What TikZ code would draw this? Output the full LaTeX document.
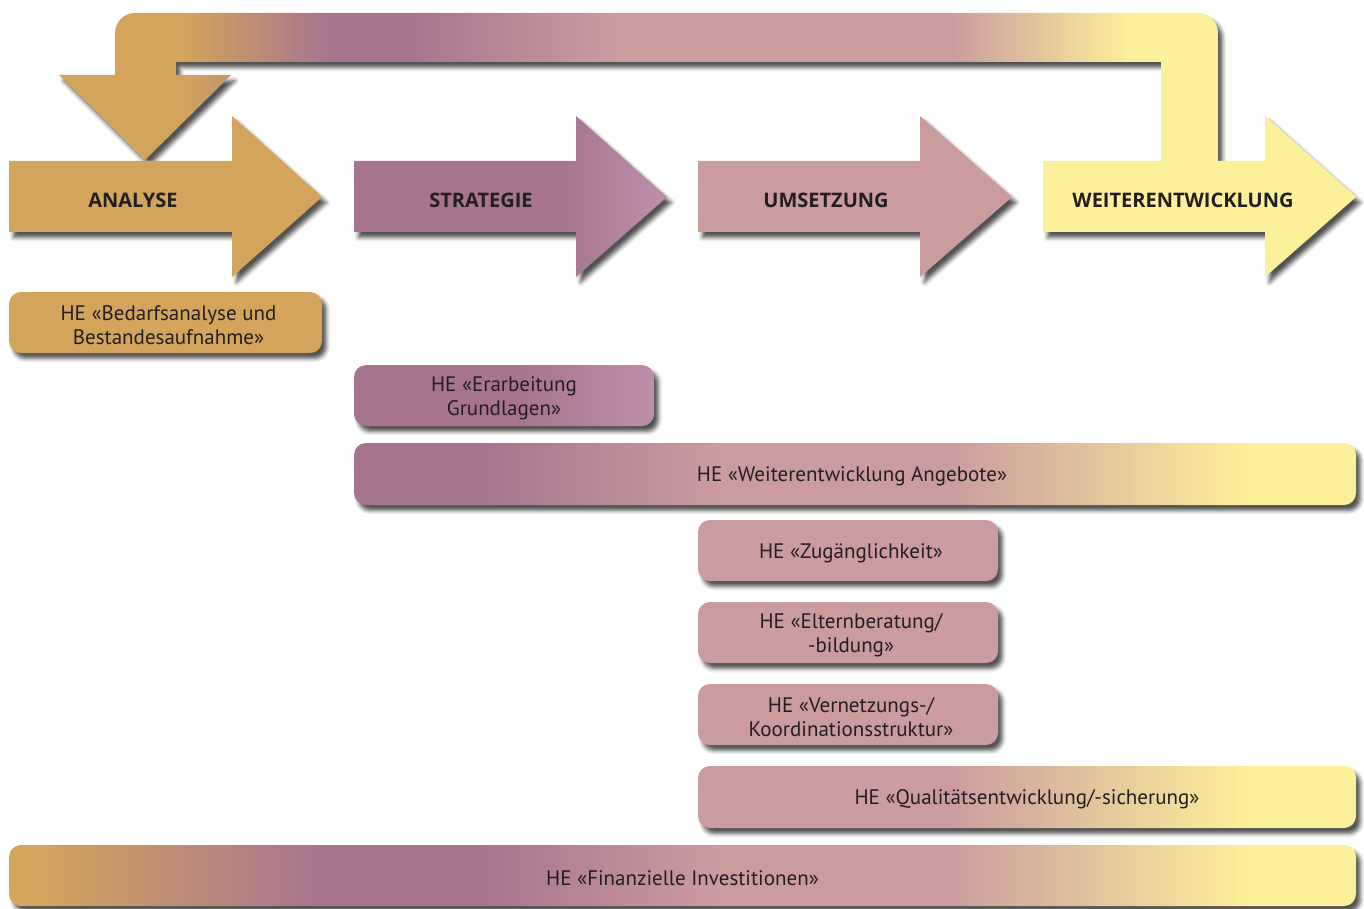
\documentclass[tikz,border=0pt]{standalone}
\usepackage{fontspec}
\setmainfont{PT Sans}
\newfontfamily\headfont{Open Sans}
\usetikzlibrary{shadows.blur}
\definecolor{cgold}{HTML}{D3A55C}
\definecolor{cpurple}{HTML}{A6748F}
\definecolor{clightpurple}{HTML}{BE8FAB}
\definecolor{cpink}{HTML}{CB9C9E}
\definecolor{cyellow}{HTML}{FDF09A}
\definecolor{ctext}{HTML}{231F20}
\pgfdeclarehorizontalshading{finshade}{100bp}{color(0bp)=(cgold); color(26.15bp)=(cgold); color(36.54bp)=(cpurple); color(42.48bp)=(cpurple); color(51.39bp)=(cpink); color(59.93bp)=(cpink); color(71.07bp)=(cyellow); color(100bp)=(cyellow)}
\pgfdeclarehorizontalshading{angshade}{100bp}{color(0bp)=(cpurple); color(31.29bp)=(cpurple); color(43.26bp)=(cpink); color(54.74bp)=(cpink); color(69.71bp)=(cyellow); color(100bp)=(cyellow)}
\pgfdeclarehorizontalshading{qualshade}{100bp}{color(0bp)=(cpink); color(44.15bp)=(cpink); color(66.95bp)=(cyellow); color(100bp)=(cyellow)}
\pgfdeclarehorizontalshading{loopshade}{100bp}{color(0bp)=(cgold); color(30.22bp)=(cgold); color(36.69bp)=(cpurple); color(40bp)=(cpurple); color(49bp)=(cpink); color(63.44bp)=(cpink); color(71.2bp)=(cyellow); color(100bp)=(cyellow)}
\pgfdeclarehorizontalshading{stratshade}{100bp}{color(0bp)=(cpurple); color(57.9bp)=(cpurple); color(75bp)=(clightpurple); color(100bp)=(clightpurple)}
\pgfdeclarehorizontalshading{erarshade}{100bp}{color(0bp)=(cpurple); color(52.7bp)=(cpurple); color(75bp)=(clightpurple); color(100bp)=(clightpurple)}
\tikzset{
  shad/.style={blur shadow={shadow xshift=2.2pt, shadow yshift=-2.8pt, shadow blur radius=2pt, shadow opacity=68}},
  box/.style={shad, rounded corners=6pt, inner sep=0pt},
  boxtxt/.style={text=ctext, align=center, inner sep=0pt, font=\fontsize{10.5}{12}\selectfont},
  headtxt/.style={text=ctext, font=\headfont\bfseries\fontsize{10}{12}\selectfont, inner sep=0pt},
}
\begin{document}
\begin{tikzpicture}[x=0.5pt,y=-0.5pt]
\useasboundingbox (0,0) rectangle (1364,909);
% feedback loop arrow
\path[shad, shade, shading=loopshade]
  (145,160) -- (231,75) -- (176,75) -- (176,62) -- (1161,62) -- (1161,161) -- (1218,161)
  -- (1218,33) arc[start angle=0, end angle=90, radius=10pt]
  -- (135,13) arc[start angle=90, end angle=180, radius=10pt]
  -- (115,75) -- (59,75) -- cycle;
% phase arrows
\path[shad, fill=cgold] (9,161) -- (232,161) -- (232,116) -- (322,197) -- (232,277) -- (232,232) -- (9,232) -- cycle;
\path[shad, shade, shading=stratshade] (354,161) -- (576,161) -- (576,116) -- (667,197) -- (576,277) -- (576,232) -- (354,232) -- cycle;
\path[shad, fill=cpink] (698,161) -- (920,161) -- (920,116) -- (1012,197) -- (920,277) -- (920,232) -- (698,232) -- cycle;
\path[shad, fill=cyellow] (1043,161) -- (1265,161) -- (1265,116) -- (1356,197) -- (1265,277) -- (1265,232) -- (1043,232) -- cycle;
\node[headtxt] (hA) at (133,200) {ANALYSE};
\node[headtxt] (hS) at (481,200) {STRATEGIE};
\node[headtxt] (hU) at (826,200) {UMSETZUNG};
\node[headtxt] (hW) at (1183,200) {WEITERENTWICKLUNG};
% boxes
\node[box, fill=cgold, minimum width=156.5pt, minimum height=30.5pt] (bBed) at (165.5,322.5) {};
\node[box, shade, shading=erarshade, minimum width=150pt, minimum height=30.5pt] (bErar) at (504,395.5) {};
\node[box, shade, shading=angshade, minimum width=501pt, minimum height=31pt] (bAng) at (855,474) {};
\node[box, fill=cpink, minimum width=150pt, minimum height=30.5pt] (bZug) at (848,550.5) {};
\node[box, fill=cpink, minimum width=150pt, minimum height=30.5pt] (bElt) at (848,632.5) {};
\node[box, fill=cpink, minimum width=150pt, minimum height=30.5pt] (bVer) at (848,714.5) {};
\node[box, shade, shading=qualshade, minimum width=329pt, minimum height=31pt] (bQual) at (1027,797) {};
\node[box, shade, shading=finshade, minimum width=673.5pt, minimum height=30.5pt] (bFin) at (682.5,875.5) {};
% box texts
\node[boxtxt] (tBed) at ([xshift=1.5pt,yshift=-1.2pt]bBed.center) {HE «Bedarfsanalyse und\\Bestandesaufnahme»};
\node[boxtxt] (tErar) at ([yshift=-1.2pt]bErar.center) {HE «Erarbeitung\\Grundlagen»};
\node[boxtxt] (tAng) at ([xshift=-1.5pt,yshift=-1.2pt]bAng.center) {HE «Weiterentwicklung Angebote»};
\node[boxtxt] (tZug) at ([xshift=1.5pt,yshift=-1.2pt]bZug.center) {HE «Zugänglichkeit»};
\node[boxtxt] (tElt) at ([xshift=1.5pt,yshift=-1.2pt]bElt.center) {HE «Elternberatung/\\-bildung»};
\node[boxtxt] (tVer) at ([xshift=1.5pt,yshift=-1.2pt]bVer.center) {HE «Vernetzungs-/\\Koordinationsstruktur»};
\node[boxtxt] (tQual) at ([yshift=-1.2pt]bQual.center) {HE «Qualitätsentwicklung/-sicherung»};
\node[boxtxt] (tFin) at ([yshift=-1.2pt]bFin.center) {HE «Finanzielle Investitionen»};
\end{tikzpicture}
\end{document}
